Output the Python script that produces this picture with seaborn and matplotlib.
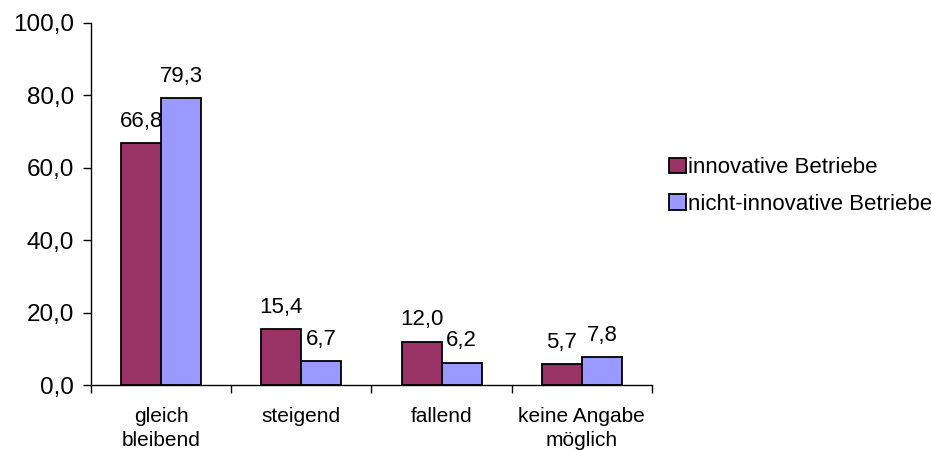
import numpy as np
import pandas as pd
import matplotlib
matplotlib.use("Agg")
import matplotlib.pyplot as plt
import seaborn as sns

categories = ["gleich\nbleibend", "steigend", "fallend", "keine Angabe\nmöglich"]
series_names = ["innovative Betriebe", "nicht-innovative Betriebe"]
innovative = [66.8, 15.4, 12.0, 5.7]
nicht_innovative = [79.3, 6.7, 6.2, 7.8]
colors = ["#993366", "#9999FF"]

df = pd.DataFrame({
    "Kategorie": categories * 2,
    "Gruppe": [series_names[0]] * 4 + [series_names[1]] * 4,
    "Wert": innovative + nicht_innovative,
})

sns.set_style("white")
plt.rcParams["font.family"] = ["Liberation Sans", "DejaVu Sans"]
plt.rcParams["text.color"] = "black"
plt.rcParams["xtick.color"] = "black"
plt.rcParams["ytick.color"] = "black"

fig = plt.figure(figsize=(9.31, 4.5), dpi=100)
ax = fig.add_axes([0.0977, 0.1444, 0.6026, 0.8045])

sns.barplot(data=df, x="Kategorie", y="Wert", hue="Gruppe", palette=colors,
            saturation=1, width=0.57, edgecolor="black", linewidth=1.3,
            ax=ax, legend=True)

for cont in ax.containers:
    ax.bar_label(cont, labels=[f"{v:.1f}".replace(".", ",") for v in cont.datavalues],
                 padding=8, fontsize=16, color="black")

ax.set_ylim(0, 100)
ax.set_xlim(-0.5, 3.5)
ax.set_yticks(np.arange(0, 101, 20))
ax.set_yticklabels([f"{v:.1f}".replace(".", ",") for v in np.arange(0, 101, 20)], fontsize=17.5)
ax.tick_params(axis="x", labelsize=15, length=0, pad=16)
ax.tick_params(axis="y", length=6, width=1, direction="out", left=True, pad=6)
ax.set_xticks([-0.5, 0.5, 1.5, 2.5, 3.5], minor=True)
ax.tick_params(axis="x", which="minor", length=6, width=1, direction="out", bottom=True)
for lbl in ax.get_xticklabels():
    lbl.set_linespacing(1.32)
ax.set_xlabel("")
ax.set_ylabel("")
for s in ["top", "right"]:
    ax.spines[s].set_visible(False)
for s in ["left", "bottom"]:
    ax.spines[s].set_color("black")
    ax.spines[s].set_linewidth(1)

handles, labels = ax.get_legend_handles_labels()
ax.get_legend().remove()
fig.legend(handles, labels, loc="upper left", bbox_to_anchor=(0.709, 0.67),
           frameon=False, fontsize=16, handlelength=0.75, handleheight=0.7,
           handletextpad=0.12, labelspacing=0.7, borderaxespad=0)

fig.savefig("out.png", dpi=100)
